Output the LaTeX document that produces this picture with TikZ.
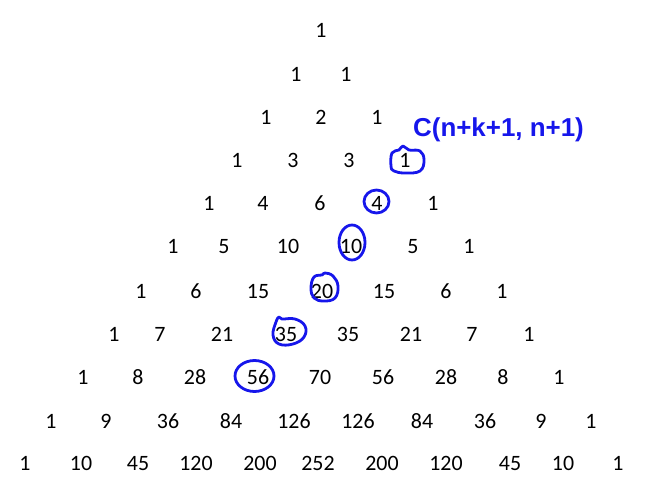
\documentclass[tikz,border=0pt]{standalone}
\usepackage{fontspec}
\setmainfont{Carlito}
\newfontfamily\labelfont{Liberation Sans}
\definecolor{penblue}{RGB}{22,22,235}
\tikzset{
num/.style={ % every number of the triangle
inner sep=0pt,
text height=14bp,
text depth=0bp,
font=\fontsize{22}{26}\selectfont},
ring/.style={ % hand drawn marks round the numbers
draw=penblue,
line width=2.8bp,
line join=round},
lbl/.style={
inner sep=0pt,
anchor=base west,
text=penblue,
font=\labelfont\bfseries\fontsize{26}{30}\selectfont}}

\begin{document}
\begin{tikzpicture}[x=1bp, y=-1bp]
\useasboundingbox (0,0) rectangle (668,491);
% rows of the triangle
\foreach \x/\v [count=\i] in {321/1}
  \node[num] (r0-\i) at (\x,31) {\v};
\foreach \x/\v [count=\i] in {296/1, 346/1}
  \node[num] (r1-\i) at (\x,75) {\v};
\foreach \x/\v [count=\i] in {266/1, 321/2, 377/1}
  \node[num] (r2-\i) at (\x,118) {\v};
\foreach \x/\v [count=\i] in {237/1, 293/3, 349/3, 405/1}
  \node[num] (r3-\i) at (\x,161) {\v};
\foreach \x/\v [count=\i] in {209/1, 263/4, 320/6, 377/4, 433/1}
  \node[num] (r4-\i) at (\x,204) {\v};
\foreach \x/\v [count=\i] in {173/1, 224/5, 288/10, 351/10, 413/5, 469/1}
  \node[num] (r5-\i) at (\x,247) {\v};
\foreach \x/\v [count=\i] in {141/1, 196/6, 258/15, 322/20, 384/15, 446/6, 502/1}
  \node[num] (r6-\i) at (\x,291) {\v};
\foreach \x/\v [count=\i] in {114/1, 160/7, 222/21, 286/35, 348/35, 411/21, 472/7, 529/1}
  \node[num] (r7-\i) at (\x,334) {\v};
\foreach \x/\v [count=\i] in {83/1, 138/8, 195/28, 258/56, 320/70, 383/56, 446/28, 503/8, 559/1}
  \node[num] (r8-\i) at (\x,377) {\v};
\foreach \x/\v [count=\i] in {51/1, 106/9, 168/36, 231/84, 294/126, 358/126, 422/84, 485/36, 541/9, 591/1}
  \node[num] (r9-\i) at (\x,421) {\v};
\foreach \x/\v [count=\i] in {25/1, 81/10, 138/45, 196/120, 260/200, 318/252, 382/200, 446/120, 510/45, 563/10, 618/1}
  \node[num] (r10-\i) at (\x,463) {\v};

% label of the marked diagonal
\node[lbl] (formula) at (413,137) {C(n+k+1, n+1)};

% marks
\draw[ring] plot[smooth cycle, tension=0.7] coordinates {(391,166) (392,153) (399,150) (403,146) (409,150) (420,151) (424,160) (420,171) (405,173) (394,171)};
\draw[ring] (376.5,201.5) ellipse [x radius=12.5bp, y radius=11.5bp];
\draw[ring] (352,242.5) ellipse [x radius=13bp, y radius=17.5bp];
\draw[ring] plot[smooth cycle, tension=0.7] coordinates {(311,288) (314,277) (322,275) (325,273) (333,276) (338,286) (335,298) (324,301) (314,298)};
\draw[ring] plot[smooth cycle, tension=0.7] coordinates {(273,335) (276,322) (279,317) (282,319) (295,319) (305,326) (304,337) (293,344) (279,344)};
\draw[ring] (254.5,376) ellipse [x radius=19.5bp, y radius=15.5bp];
\end{tikzpicture}
\end{document}
